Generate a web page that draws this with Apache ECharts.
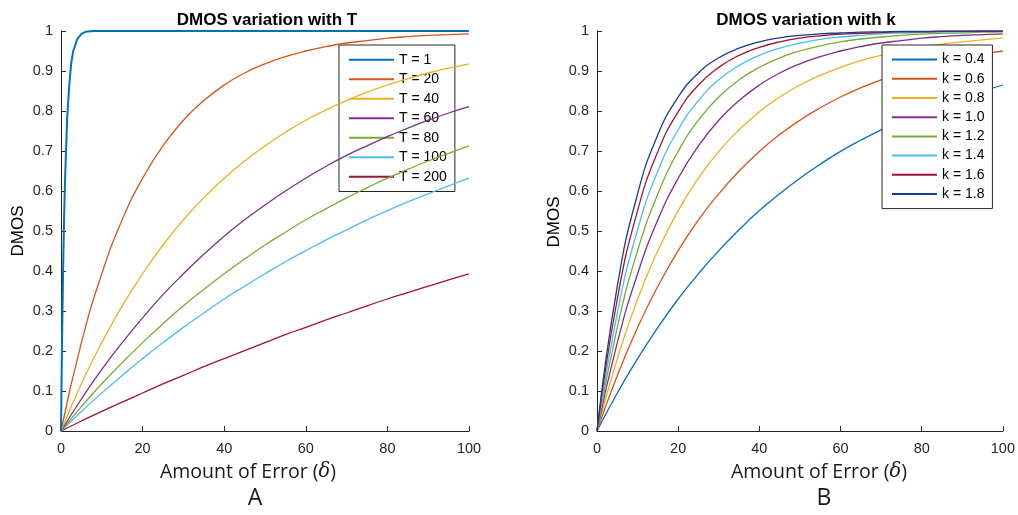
<!DOCTYPE html>
<html><head><meta charset="utf-8">
<script src="https://cdn.jsdelivr.net/npm/echarts@6/dist/echarts.min.js"></script>
<style>html,body{margin:0;padding:0;background:#fff}#c{width:1018px;height:515px}</style>
</head><body><div id="c"></div>
<script>
// Shared x positions (amount of error) for smooth curves
const xs = [0,5,10,15,20,25,30,35,40,45,50,55,60,65,70,75,80,85,90,95,100];
// T = 1 rises almost instantly, so it has its own dense x positions
const xT1 = [0,0.25,0.5,0.75,1,1.5,2,2.5,3,4,5,6,8,10,100];
const T1  = [0,0.22,0.39,0.53,0.63,0.78,0.86,0.92,0.95,0.98,0.993,0.998,1,1,1];

// Panel A: DMOS vs amount of error for different T
const namesA = ['T = 1','T = 20','T = 40','T = 60','T = 80','T = 100','T = 200'];
const T20  = [0,0.221,0.393,0.528,0.632,0.713,0.777,0.826,0.865,0.895,0.918,0.936,0.950,0.961,0.970,0.976,0.982,0.986,0.989,0.991,0.993];
const T40  = [0,0.118,0.221,0.313,0.393,0.465,0.528,0.583,0.632,0.675,0.713,0.747,0.777,0.803,0.826,0.847,0.865,0.881,0.895,0.907,0.918];
const T60  = [0,0.080,0.154,0.221,0.283,0.341,0.393,0.442,0.487,0.528,0.565,0.600,0.632,0.662,0.689,0.713,0.736,0.757,0.777,0.795,0.811];
const T80  = [0,0.061,0.118,0.171,0.221,0.268,0.313,0.354,0.393,0.430,0.465,0.497,0.528,0.556,0.583,0.608,0.632,0.654,0.675,0.694,0.713];
const T100 = [0,0.049,0.095,0.139,0.181,0.221,0.259,0.295,0.330,0.362,0.393,0.423,0.451,0.478,0.503,0.528,0.551,0.573,0.593,0.613,0.632];
const T200 = [0,0.025,0.049,0.072,0.095,0.118,0.139,0.161,0.181,0.201,0.221,0.241,0.259,0.278,0.295,0.313,0.330,0.346,0.362,0.378,0.393];
const seriesA = [T20,T40,T60,T80,T100,T200];

// Panel B: DMOS vs amount of error for different k
const namesB = ['k = 0.4','k = 0.6','k = 0.8','k = 1.0','k = 1.2','k = 1.4','k = 1.6','k = 1.8'];
const k04 = [0,0.095,0.181,0.259,0.330,0.393,0.451,0.503,0.551,0.593,0.632,0.667,0.699,0.727,0.753,0.777,0.798,0.817,0.835,0.850,0.865];
const k06 = [0,0.139,0.259,0.362,0.451,0.528,0.593,0.650,0.699,0.741,0.777,0.808,0.835,0.858,0.878,0.895,0.909,0.922,0.933,0.942,0.950];
const k08 = [0,0.181,0.330,0.451,0.551,0.632,0.699,0.753,0.798,0.835,0.865,0.889,0.909,0.926,0.939,0.950,0.959,0.967,0.973,0.978,0.982];
const k10 = [0,0.221,0.393,0.528,0.632,0.713,0.777,0.826,0.865,0.895,0.918,0.936,0.950,0.961,0.970,0.976,0.982,0.986,0.989,0.991,0.993];
const k12 = [0,0.259,0.451,0.593,0.699,0.777,0.835,0.878,0.909,0.933,0.950,0.963,0.973,0.980,0.985,0.989,0.992,0.994,0.995,0.997,0.998];
const k14 = [0,0.295,0.503,0.650,0.753,0.826,0.878,0.914,0.939,0.957,0.970,0.979,0.985,0.989,0.993,0.995,0.996,0.997,0.998,0.999,0.999];
const k16 = [0,0.330,0.551,0.699,0.798,0.865,0.909,0.939,0.959,0.973,0.982,0.988,0.992,0.994,0.996,0.998,0.998,0.999,0.999,1,1];
const k18 = [0,0.362,0.593,0.741,0.835,0.895,0.933,0.957,0.973,0.983,0.989,0.993,0.995,0.997,0.998,0.999,0.999,1,1,1,1];
const seriesB = [k04,k06,k08,k10,k12,k14,k16,k18];

const yTicks = [0,0.1,0.2,0.3,0.4,0.5,0.6,0.7,0.8,0.9,1];
const xTicks = [0,20,40,60,80,100];

const colorsA = ['#0072BD','#D95319','#EDB120','#7E2F8E','#77AC30','#4DBEEE','#A2142F'];
const colorsB = ['#0072BD','#D95319','#EDB120','#7E2F8E','#77AC30','#4DBEEE','#A2142F','#1a3a8c'];

const font = 'Liberation Sans, Arial, sans-serif';
const axisCol = '#262626';

function xAxis(gi){
  return {type:'value', gridIndex:gi, min:0, max:100, interval:20,
    axisLine:{show:true,lineStyle:{color:axisCol,width:1}},
    axisTick:{show:true,inside:true,length:5,lineStyle:{color:axisCol}},
    axisLabel:{color:'#262626',fontFamily:font,fontSize:14.5,margin:10,
      formatter:v=>xTicks.includes(v)?String(v):''},
    splitLine:{show:false}};
}
function yAxis(gi){
  return {type:'value', gridIndex:gi, min:0, max:1, interval:0.1,
    axisLine:{show:true,lineStyle:{color:axisCol,width:1}},
    axisTick:{show:true,inside:true,length:5,lineStyle:{color:axisCol}},
    axisLabel:{color:'#262626',fontFamily:font,fontSize:14.5,margin:8,
      formatter:v=>{const t=yTicks.find(a=>Math.abs(a-v)<1e-6);return t===undefined?'':String(t);}},
    splitLine:{show:false}};
}

const series = [];
series.push({name:namesA[0],type:'line',xAxisIndex:0,yAxisIndex:0,
  data:xT1.map((x,j)=>[x,T1[j]]),showSymbol:false,smooth:false,
  lineStyle:{width:2,color:colorsA[0]},itemStyle:{color:colorsA[0]},z:10});
seriesA.forEach((arr,i)=>series.push({name:namesA[i+1],type:'line',xAxisIndex:0,yAxisIndex:0,
  data:xs.map((x,j)=>[x,arr[j]]),showSymbol:false,smooth:true,
  lineStyle:{width:1.3,color:colorsA[i+1]},itemStyle:{color:colorsA[i+1]},z:9-i}));
namesB.forEach((n,i)=>series.push({name:n,type:'line',xAxisIndex:1,yAxisIndex:1,
  data:xs.map((x,j)=>[x,seriesB[i][j]]),showSymbol:false,smooth:true,
  lineStyle:{width:1.3,color:colorsB[i]},itemStyle:{color:colorsB[i]}}));

function legend(data,left,top,lh){
  return {data:data,orient:'vertical',left:left,top:top,
    icon:'rect',itemWidth:45,itemHeight:2,itemGap:0,
    padding:[5,8,5,10],
    backgroundColor:'#fff',borderColor:'#262626',borderWidth:1,borderRadius:0,
    textStyle:{fontFamily:font,fontSize:14,color:'#000',lineHeight:lh},
    selectedMode:false};
}

function xlabel(x){
  return {type:'text',x:x,y:472,style:{
    text:'Amount of Error ({d|\u03B4})',
    font:'19.5px "Open Sans", sans-serif',fill:'#1a1a1a',align:'center',verticalAlign:'middle',
    rich:{d:{fontFamily:'DejaVu Serif, serif',fontStyle:'italic',fontSize:19.5,fill:'#1a1a1a'}}}};
}

const chart = echarts.init(document.getElementById('c'),null,{renderer:'canvas'});
chart.setOption({
  animation:false,
  backgroundColor:'#fff',
  title:[
    {text:'DMOS variation with T',left:262,top:7,textAlign:'center',
      textStyle:{fontFamily:font,fontSize:17,fontWeight:'bold',color:'#000'}},
    {text:'DMOS variation with k',left:801,top:7,textAlign:'center',
      textStyle:{fontFamily:font,fontSize:17,fontWeight:'bold',color:'#000'}}
  ],
  grid:[
    {left:61,top:31,width:408,height:400,containLabel:false},
    {left:597,top:31,width:408,height:400,containLabel:false}
  ],
  xAxis:[xAxis(0),xAxis(1)],
  yAxis:[yAxis(0),yAxis(1)],
  legend:[legend(namesA,339,45,19.5),legend(namesB,882,45,19.2)],
  series:series,
  graphic:[
    xlabel(248), xlabel(819),
    {type:'text',x:255,y:498,style:{text:'A',font:'23px "Open Sans", sans-serif',fill:'#1a1a1a',align:'center',verticalAlign:'middle'}},
    {type:'text',x:824,y:498,style:{text:'B',font:'23px "Open Sans", sans-serif',fill:'#1a1a1a',align:'center',verticalAlign:'middle'}},
    {type:'text',x:18,y:231,rotation:Math.PI/2,style:{text:'DMOS',font:'17px '+font,fill:'#000',align:'center',verticalAlign:'middle'}},
    {type:'text',x:554,y:222,rotation:Math.PI/2,style:{text:'DMOS',font:'17px '+font,fill:'#000',align:'center',verticalAlign:'middle'}}
  ]
});
</script></body></html>
